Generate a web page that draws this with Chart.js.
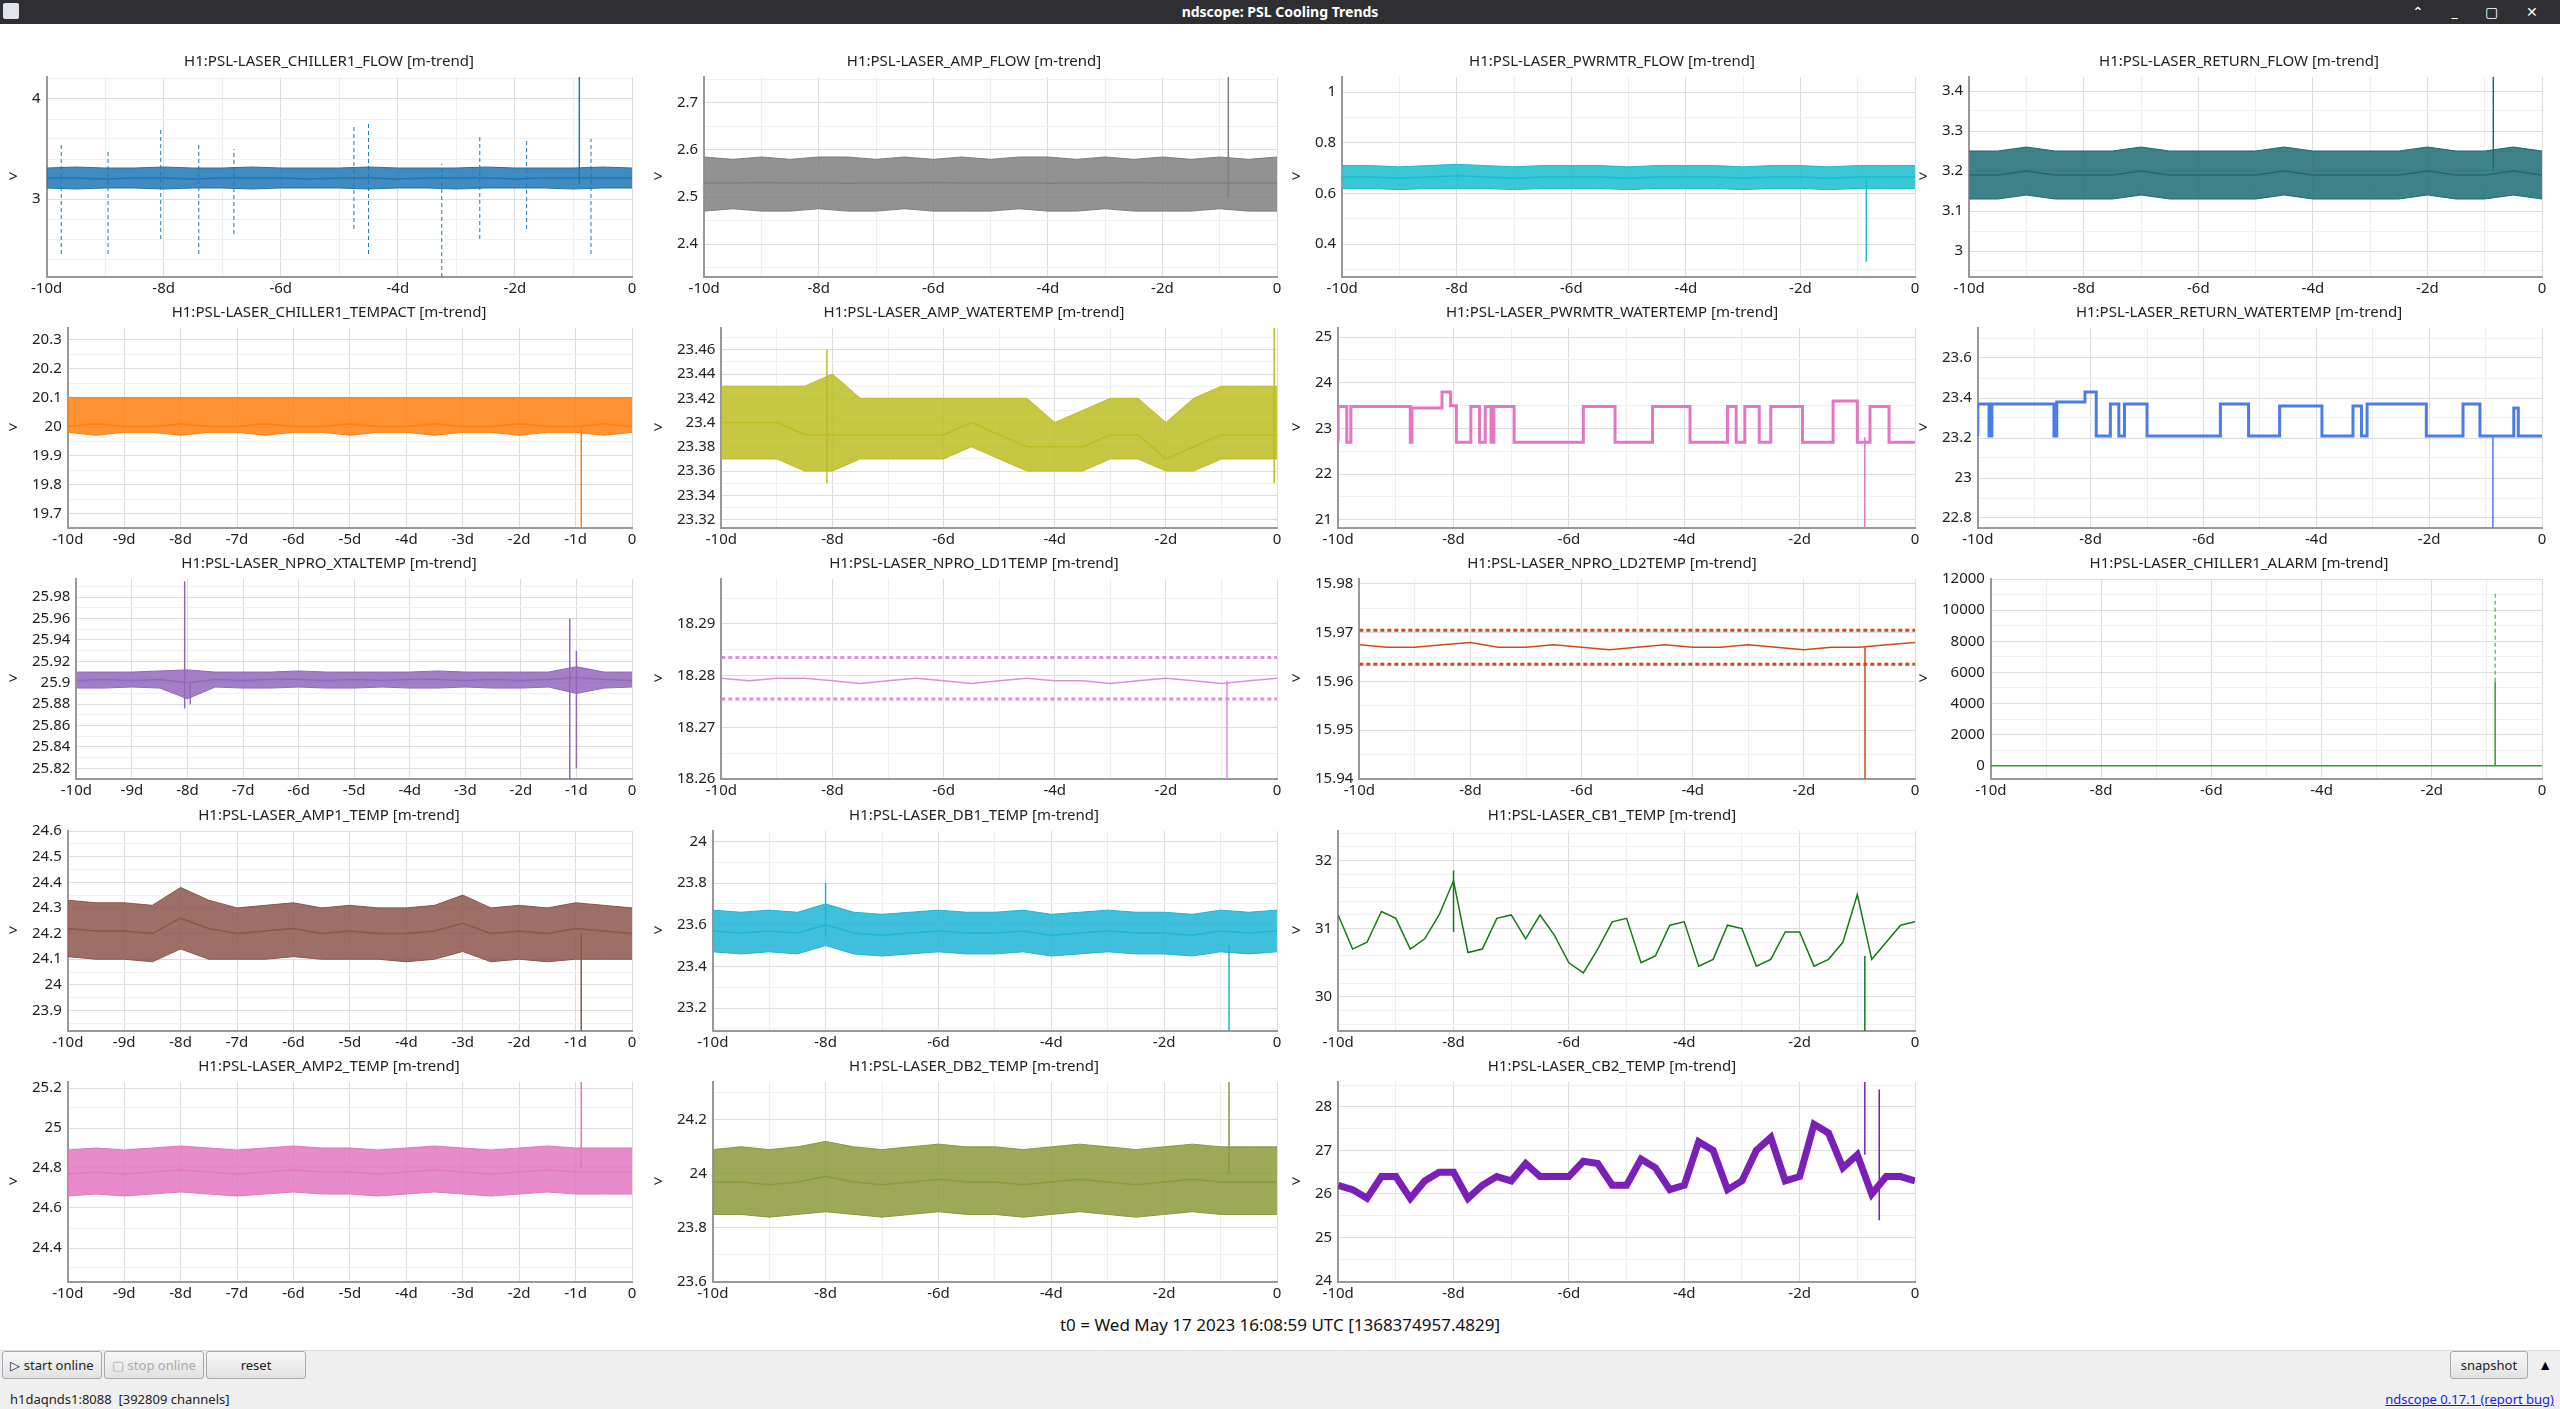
<!DOCTYPE html>
<html>
<head>
<meta charset="utf-8">
<script src="https://cdn.jsdelivr.net/npm/chart.js@4.4.0/dist/chart.umd.min.js"></script>
<style>
  html, body { margin: 0; padding: 0; width: 2560px; height: 1409px; overflow: hidden; background: #fff; font-family: "Noto Sans", sans-serif; }
  #titlebar { position: absolute; left: 0; top: 0; width: 2560px; height: 24px; background: #2f2f33; color: #fff; font-size: 14px; font-weight: bold; text-align: center; line-height: 24px; }
  #titlebar .ico { position: absolute; left: 3px; top: 3px; width: 16px; height: 16px; background: #dfe3ea; border-radius: 2px; }
  #titlebar .btns { position: absolute; right: 10px; top: 0; font-weight: normal; letter-spacing: 12px; }
  .cell { position: absolute; width: 640px; height: 250px; }
  #t0 { position: absolute; left: 0; width: 2560px; top: 1313px; text-align: center; font-size: 17px; color: #111; }
  #bottom { position: absolute; left: 0; top: 1350px; width: 2560px; height: 59px; background: #efefef; border-top: 1px solid #ddd; }
  .btn { position: absolute; top: 0; height: 26px; border: 1px solid #aaa; border-radius: 3px; background: linear-gradient(#f8f8f8, #e2e2e2); font-size: 13px; line-height: 26px; text-align: center; color: #222; }
  #status { position: absolute; left: 10px; top: 39px; font-size: 13px; color: #222; }
  #ver { position: absolute; right: 6px; top: 39px; font-size: 13px; color: #1a1ae0; text-decoration: underline; }
</style>
</head>
<body>
<div id="titlebar"><div class="ico"></div>ndscope: PSL Cooling Trends<span class="btns">⌃ _ ▢ ✕</span></div>
<div id="grid"></div>
<div id="t0">t0 = Wed May 17 2023 16:08:59 UTC [1368374957.4829]</div>
<div id="bottom">
  <div class="btn" style="left:2px;width:98px">▷ start online</div>
  <div class="btn" style="left:104px;width:98px;color:#aaa">▢ stop online</div>
  <div class="btn" style="left:206px;width:98px">reset</div>
  <div class="btn" style="right:32px;width:76px">snapshot</div>
  <div style="position:absolute;right:8px;top:4px;font-size:14px">▲</div>
  <div id="status">h1daqnds1:8088 &nbsp;[392809 channels]</div>
  <div id="ver">ndscope 0.17.1 (report bug)</div>
</div>
<script>
// ==========================================
// Datos
// ==========================================
// Eje temporal común (días respecto a t0), cada 12 h
const T = [-10,-9.5,-9,-8.5,-8,-7.5,-7,-6.5,-6,-5.5,-5,-4.5,-4,-3.5,-3,-2.5,-2,-1.5,-1,-0.5,0];

const CH1FLOW_MAX = [3.31,3.32,3.31,3.31,3.32,3.31,3.31,3.32,3.31,3.31,3.31,3.32,3.31,3.31,3.31,3.32,3.31,3.31,3.31,3.32,3.31];
const CH1FLOW_MEAN = [3.21,3.21,3.2,3.21,3.21,3.2,3.21,3.21,3.21,3.2,3.21,3.21,3.2,3.21,3.21,3.21,3.2,3.21,3.21,3.21,3.21];
const CH1FLOW_MIN = [3.11,3.1,3.11,3.11,3.1,3.11,3.11,3.1,3.11,3.11,3.11,3.1,3.11,3.11,3.1,3.11,3.11,3.11,3.1,3.11,3.11];
const CH1FLOW_OUT = [[-9.75,2.45,3.55],[-8.95,2.45,3.5],[-8.05,2.6,3.7],[-7.4,2.45,3.55],[-6.8,2.65,3.5],[-4.75,2.7,3.75],[-4.5,2.45,3.75],[-3.25,2.22,3.35],[-2.6,2.6,3.65],[-1.8,2.7,3.6],[-0.7,2.45,3.6]];
const CH1FLOW_SPK = [[-0.9,3.15,4.22]];

const AMPFLOW_MAX = [2.585,2.58,2.585,2.58,2.585,2.585,2.58,2.585,2.58,2.585,2.58,2.585,2.585,2.58,2.585,2.58,2.585,2.58,2.585,2.58,2.585];
const AMPFLOW_MEAN = [2.53,2.53,2.531,2.53,2.53,2.529,2.53,2.53,2.531,2.53,2.53,2.53,2.529,2.53,2.53,2.531,2.53,2.53,2.53,2.53,2.53];
const AMPFLOW_MIN = [2.47,2.475,2.47,2.47,2.475,2.47,2.47,2.475,2.47,2.47,2.47,2.475,2.47,2.47,2.475,2.47,2.47,2.47,2.475,2.47,2.47];
const AMPFLOW_SPK = [[-0.85,2.5,2.755]];

const PMFLOW_MAX = [0.71,0.71,0.705,0.71,0.715,0.71,0.705,0.71,0.71,0.71,0.705,0.71,0.71,0.71,0.705,0.71,0.71,0.705,0.71,0.71,0.71];
const PMFLOW_MEAN = [0.665,0.665,0.66,0.665,0.67,0.665,0.66,0.665,0.665,0.665,0.66,0.665,0.665,0.665,0.66,0.665,0.665,0.66,0.665,0.665,0.665];
const PMFLOW_MIN = [0.62,0.62,0.615,0.62,0.62,0.62,0.615,0.62,0.62,0.62,0.615,0.62,0.62,0.62,0.615,0.62,0.62,0.615,0.62,0.62,0.62];
const PMFLOW_SPK = [[-0.85,0.33,0.66]];

const RETFLOW_MAX = [3.25,3.25,3.26,3.25,3.25,3.25,3.26,3.25,3.25,3.25,3.25,3.26,3.25,3.25,3.25,3.25,3.26,3.25,3.25,3.26,3.25];
const RETFLOW_MEAN = [3.19,3.19,3.2,3.19,3.19,3.19,3.2,3.19,3.19,3.19,3.19,3.2,3.19,3.19,3.19,3.19,3.2,3.19,3.19,3.2,3.19];
const RETFLOW_MIN = [3.13,3.13,3.14,3.13,3.13,3.13,3.14,3.13,3.13,3.13,3.13,3.14,3.13,3.13,3.13,3.13,3.14,3.13,3.13,3.14,3.13];
const RETFLOW_SPK = [[-0.85,3.2,3.435]];

const TEMPACT_MAX = [20.1,20.1,20.1,20.1,20.1,20.1,20.1,20.1,20.1,20.1,20.1,20.1,20.1,20.1,20.1,20.1,20.1,20.1,20.1,20.1,20.1];
const TEMPACT_MEAN = [20.0,20.01,20.0,20.0,20.01,20.0,20.0,20.01,20.0,20.0,20.01,20.0,20.0,20.01,20.0,20.0,20.01,20.0,20.0,20.01,20.0];
const TEMPACT_MIN = [19.98,19.97,19.98,19.98,19.97,19.98,19.98,19.97,19.98,19.98,19.97,19.98,19.98,19.97,19.98,19.98,19.97,19.98,19.98,19.97,19.98];
const TEMPACT_SPK = [[-0.9,19.65,20.0]];

const AMPWT_MAX = [23.43,23.43,23.43,23.43,23.44,23.42,23.42,23.42,23.42,23.42,23.42,23.42,23.4,23.41,23.42,23.42,23.4,23.42,23.43,23.43,23.43];
const AMPWT_MEAN = [23.4,23.4,23.4,23.39,23.39,23.39,23.39,23.39,23.39,23.4,23.39,23.38,23.38,23.38,23.39,23.39,23.37,23.38,23.39,23.39,23.39];
const AMPWT_MIN = [23.37,23.37,23.37,23.36,23.36,23.37,23.37,23.37,23.37,23.38,23.37,23.36,23.36,23.36,23.37,23.37,23.36,23.36,23.37,23.37,23.37];
const AMPWT_SPK = [[-8.1,23.35,23.46],[-0.05,23.35,23.478]];

// Curvas de escalones: [t, valor]
const PMWT_STEPS = [[-10,22.7],[-9.85,23.48],[-9.78,22.7],[-8.75,23.48],[-8.72,22.7],[-8.2,23.45],[-8.05,23.8],[-7.95,23.5],[-7.7,22.7],[-7.55,23.48],[-7.45,22.7],[-7.35,23.48],[-7.3,22.7],[-6.95,23.48],[-5.75,22.7],[-5.2,23.48],[-4.55,22.7],[-3.9,23.48],[-3.25,22.7],[-3.1,23.48],[-2.95,22.7],[-2.7,23.48],[-2.5,22.7],[-1.95,23.48],[-1.42,22.7],[-1.0,23.6],[-0.78,22.7],[-0.45,23.48],[-0.38,22.7],[0,22.7]];
const PMWT_SPK = [[-0.87,20.82,22.8]];

const RETWT_STEPS = [[-10,23.21],[-9.8,23.37],[-9.75,23.21],[-8.65,23.37],[-8.6,23.21],[-8.1,23.38],[-7.9,23.43],[-7.65,23.21],[-7.5,23.37],[-7.4,23.21],[-7.0,23.37],[-5.7,23.21],[-5.2,23.37],[-4.65,23.21],[-3.9,23.36],[-3.35,23.21],[-3.2,23.36],[-3.1,23.21],[-2.05,23.37],[-1.4,23.21],[-1.1,23.37],[-0.5,23.21],[-0.42,23.35],[-0.35,23.21],[0,23.21]];
const RETWT_SPK = [[-0.87,22.75,23.21]];

const XTAL_MAX = [25.91,25.91,25.91,25.911,25.912,25.91,25.91,25.91,25.911,25.91,25.91,25.91,25.91,25.911,25.91,25.91,25.91,25.91,25.915,25.91,25.91];
const XTAL_MEAN = [25.902,25.903,25.902,25.903,25.9,25.903,25.902,25.903,25.903,25.902,25.903,25.902,25.903,25.903,25.902,25.903,25.902,25.903,25.905,25.903,25.902];
const XTAL_MIN = [25.895,25.895,25.896,25.895,25.885,25.896,25.895,25.895,25.896,25.895,25.895,25.896,25.895,25.895,25.896,25.895,25.895,25.896,25.89,25.895,25.896];
const XTAL_SPK = [[-8.05,25.876,25.995],[-7.95,25.88,25.9],[-1.12,25.81,25.96],[-1.0,25.82,25.93]];

const LD1_MAX = [18.2835,18.2835,18.2835,18.2835,18.2835,18.2835,18.2835,18.2835,18.2835,18.2835,18.2835,18.2835,18.2835,18.2835,18.2835,18.2835,18.2835,18.2835,18.2835,18.2835,18.2835];
const LD1_MEAN = [18.2795,18.279,18.2795,18.2795,18.279,18.2785,18.279,18.2795,18.279,18.2785,18.279,18.2795,18.279,18.279,18.2785,18.279,18.2795,18.279,18.2785,18.279,18.2795];
const LD1_MIN = [18.2755,18.2755,18.2755,18.2755,18.2755,18.2755,18.2755,18.2755,18.2755,18.2755,18.2755,18.2755,18.2755,18.2755,18.2755,18.2755,18.2755,18.2755,18.2755,18.2755,18.2755];
const LD1_SPK = [[-0.9,18.26,18.279]];

const LD2_MAX = [15.9705,15.9705,15.9705,15.9705,15.9705,15.9705,15.9705,15.9705,15.9705,15.9705,15.9705,15.9705,15.9705,15.9705,15.9705,15.9705,15.9705,15.9705,15.9705,15.9705,15.9705];
const LD2_MEAN = [15.9675,15.967,15.967,15.9675,15.968,15.967,15.967,15.9675,15.967,15.9665,15.967,15.9675,15.967,15.967,15.9675,15.967,15.9665,15.967,15.967,15.9675,15.968];
const LD2_MIN = [15.9635,15.9635,15.9635,15.9635,15.9635,15.9635,15.9635,15.9635,15.9635,15.9635,15.9635,15.9635,15.9635,15.9635,15.9635,15.9635,15.9635,15.9635,15.9635,15.9635,15.9635];
const LD2_SPK = [[-0.9,15.94,15.967]];

const ALARM_MEAN = [0,0,0,0,0,0,0,0,0,0,0,0,0,0,0,0,0,0,0,0,0];
const ALARM_SPK = [[-0.85,0,5400]];
const ALARM_OUT = [[-0.85,5400,11200]];

const AMP1_MAX = [24.33,24.32,24.32,24.31,24.38,24.33,24.3,24.31,24.32,24.3,24.31,24.3,24.3,24.31,24.35,24.3,24.31,24.3,24.32,24.31,24.3];
const AMP1_MEAN = [24.22,24.21,24.21,24.2,24.26,24.22,24.2,24.21,24.22,24.2,24.21,24.2,24.2,24.21,24.24,24.2,24.21,24.2,24.22,24.21,24.2];
const AMP1_MIN = [24.11,24.1,24.1,24.09,24.14,24.1,24.1,24.1,24.11,24.1,24.1,24.1,24.09,24.1,24.13,24.09,24.1,24.09,24.1,24.1,24.1];
const AMP1_SPK = [[-0.9,23.82,24.2]];

const DB1_MAX = [23.67,23.66,23.67,23.66,23.7,23.66,23.65,23.66,23.67,23.66,23.66,23.67,23.65,23.66,23.67,23.66,23.66,23.65,23.67,23.66,23.67];
const DB1_MEAN = [23.57,23.56,23.57,23.56,23.6,23.56,23.55,23.56,23.57,23.56,23.56,23.57,23.55,23.56,23.57,23.56,23.56,23.55,23.57,23.56,23.57];
const DB1_MIN = [23.47,23.46,23.47,23.46,23.5,23.46,23.45,23.46,23.47,23.46,23.46,23.47,23.45,23.46,23.47,23.46,23.46,23.45,23.47,23.46,23.47];
const DB1_SPK = [[-8.0,23.55,23.8],[-0.85,23.09,23.5]];

const AMP2_MAX = [24.89,24.9,24.89,24.9,24.91,24.9,24.89,24.9,24.91,24.9,24.9,24.89,24.9,24.91,24.9,24.89,24.9,24.91,24.9,24.9,24.9];
const AMP2_MEAN = [24.77,24.78,24.77,24.78,24.79,24.78,24.77,24.78,24.79,24.78,24.78,24.77,24.78,24.79,24.78,24.77,24.78,24.79,24.78,24.78,24.78];
const AMP2_MIN = [24.66,24.67,24.66,24.67,24.68,24.67,24.66,24.67,24.68,24.67,24.67,24.66,24.67,24.68,24.67,24.66,24.67,24.68,24.67,24.67,24.67];
const AMP2_SPK = [[-0.9,24.8,25.23]];

const DB2_MAX = [24.09,24.1,24.09,24.1,24.12,24.1,24.09,24.1,24.11,24.1,24.1,24.09,24.1,24.11,24.1,24.09,24.1,24.11,24.1,24.1,24.1];
const DB2_MEAN = [23.97,23.97,23.96,23.97,23.99,23.97,23.96,23.97,23.98,23.97,23.97,23.96,23.97,23.98,23.97,23.96,23.97,23.98,23.97,23.97,23.97];
const DB2_MIN = [23.85,23.85,23.84,23.85,23.86,23.85,23.84,23.85,23.86,23.85,23.85,23.84,23.85,23.86,23.85,23.84,23.85,23.86,23.85,23.85,23.85];
const DB2_SPK = [[-0.85,24.0,24.34]];

// Eje temporal fino (cada 6 h) para CB1 / CB2
const T6 = [-10,-9.75,-9.5,-9.25,-9,-8.75,-8.5,-8.25,-8,-7.75,-7.5,-7.25,-7,-6.75,-6.5,-6.25,-6,-5.75,-5.5,-5.25,-5,-4.75,-4.5,-4.25,-4,-3.75,-3.5,-3.25,-3,-2.75,-2.5,-2.25,-2,-1.75,-1.5,-1.25,-1,-0.75,-0.5,-0.25,0];
const CB1_MEAN = [31.2,30.7,30.8,31.25,31.15,30.7,30.85,31.2,31.7,30.65,30.7,31.15,31.2,30.85,31.2,30.9,30.5,30.35,30.7,31.1,31.15,30.5,30.6,31.05,31.1,30.45,30.55,31.05,31.0,30.45,30.55,30.95,30.95,30.45,30.55,30.8,31.5,30.55,30.8,31.05,31.1];
const CB1_SPK = [[-0.87,29.5,30.6],[-8.0,30.95,31.85]];
const CB2_MEAN = [26.2,26.1,25.9,26.4,26.4,25.9,26.3,26.5,26.5,25.9,26.2,26.4,26.3,26.7,26.4,26.4,26.4,26.75,26.7,26.2,26.2,26.8,26.6,26.1,26.2,27.2,27.0,26.1,26.3,27.0,27.3,26.3,26.4,27.6,27.4,26.6,26.9,26.0,26.4,26.4,26.3];
const CB2_SPK = [[-0.87,26.9,28.57],[-0.62,25.4,28.4]];

// ==========================================
// Configuración de paneles
// ==========================================
const paneles = [
  { title: 'H1:PSL-LASER_CHILLER1_FLOW [m-trend]', color: '#1f77b4', y: [2.22, 4.22, 0.2, 1], xl: 2, max: CH1FLOW_MAX, mean: CH1FLOW_MEAN, min: CH1FLOW_MIN, spk: CH1FLOW_SPK, out: CH1FLOW_OUT },
  { title: 'H1:PSL-LASER_AMP_FLOW [m-trend]', color: '#7f7f7f', y: [2.33, 2.755, 0.05, 0.1], xl: 2, max: AMPFLOW_MAX, mean: AMPFLOW_MEAN, min: AMPFLOW_MIN, spk: AMPFLOW_SPK },
  { title: 'H1:PSL-LASER_PWRMTR_FLOW [m-trend]', color: '#17becf', y: [0.27, 1.06, 0.1, 0.2], xl: 2, max: PMFLOW_MAX, mean: PMFLOW_MEAN, min: PMFLOW_MIN, spk: PMFLOW_SPK },
  { title: 'H1:PSL-LASER_RETURN_FLOW [m-trend]', color: '#1d6b73', y: [2.935, 3.435, 0.05, 0.1], xl: 2, max: RETFLOW_MAX, mean: RETFLOW_MEAN, min: RETFLOW_MIN, spk: RETFLOW_SPK },
  { title: 'H1:PSL-LASER_CHILLER1_TEMPACT [m-trend]', color: '#ff7f0e', y: [19.65, 20.34, 0.05, 0.1], xl: 1, max: TEMPACT_MAX, mean: TEMPACT_MEAN, min: TEMPACT_MIN, spk: TEMPACT_SPK },
  { title: 'H1:PSL-LASER_AMP_WATERTEMP [m-trend]', color: '#bcbd22', y: [23.313, 23.478, 0.01, 0.02], xl: 2, max: AMPWT_MAX, mean: AMPWT_MEAN, min: AMPWT_MIN, spk: AMPWT_SPK },
  { title: 'H1:PSL-LASER_PWRMTR_WATERTEMP [m-trend]', color: '#e377c2', y: [20.82, 25.2, 0.5, 1], xl: 2, steps: PMWT_STEPS, spk: PMWT_SPK },
  { title: 'H1:PSL-LASER_RETURN_WATERTEMP [m-trend]', color: '#4a7de8', y: [22.75, 23.75, 0.1, 0.2], xl: 2, steps: RETWT_STEPS, spk: RETWT_SPK },
  { title: 'H1:PSL-LASER_NPRO_XTALTEMP [m-trend]', color: '#9467bd', y: [25.81, 25.997, 0.01, 0.02], xl: 1, max: XTAL_MAX, mean: XTAL_MEAN, min: XTAL_MIN, spk: XTAL_SPK },
  { title: 'H1:PSL-LASER_NPRO_LD1TEMP [m-trend]', color: '#dc8fdc', y: [18.26, 18.2987, 0.005, 0.01], xl: 2, max: LD1_MAX, mean: LD1_MEAN, min: LD1_MIN, spk: LD1_SPK, dashedEnv: true },
  { title: 'H1:PSL-LASER_NPRO_LD2TEMP [m-trend]', color: '#d2481a', y: [15.94, 15.981, 0.005, 0.01], xl: 2, max: LD2_MAX, mean: LD2_MEAN, min: LD2_MIN, spk: LD2_SPK, dashedEnv: true },
  { title: 'H1:PSL-LASER_CHILLER1_ALARM [m-trend]', color: '#2ca02c', y: [-850, 12000, 1000, 2000], xl: 2, mean: ALARM_MEAN, spk: ALARM_SPK, out: ALARM_OUT },
  { title: 'H1:PSL-LASER_AMP1_TEMP [m-trend]', color: '#8c564b', y: [23.82, 24.6, 0.05, 0.1], xl: 1, max: AMP1_MAX, mean: AMP1_MEAN, min: AMP1_MIN, spk: AMP1_SPK },
  { title: 'H1:PSL-LASER_DB1_TEMP [m-trend]', color: '#1fb5d6', y: [23.09, 24.05, 0.1, 0.2], xl: 2, max: DB1_MAX, mean: DB1_MEAN, min: DB1_MIN, spk: DB1_SPK },
  { title: 'H1:PSL-LASER_CB1_TEMP [m-trend]', color: '#157a15', y: [29.5, 32.43, 0.2, 1], xl: 2, t: T6, mean: CB1_MEAN, spk: CB1_SPK, lw: 1.5 },
  null,
  { title: 'H1:PSL-LASER_AMP2_TEMP [m-trend]', color: '#e377c2', y: [24.23, 25.23, 0.1, 0.2], xl: 1, max: AMP2_MAX, mean: AMP2_MEAN, min: AMP2_MIN, spk: AMP2_SPK },
  { title: 'H1:PSL-LASER_DB2_TEMP [m-trend]', color: '#8c9a3c', y: [23.6, 24.34, 0.1, 0.2], xl: 2, max: DB2_MAX, mean: DB2_MEAN, min: DB2_MIN, spk: DB2_SPK },
  { title: 'H1:PSL-LASER_CB2_TEMP [m-trend]', color: '#7a1fb8', y: [23.98, 28.57, 0.5, 1], xl: 2, t: T6, mean: CB2_MEAN, spk: CB2_SPK, lw: 7 }
];

const colLeft = [0, 645, 1283, 1910];
const rowTop = [51, 302, 553, 805, 1056];

function esMultiplo(v, paso) {
  const r = v / paso;
  return Math.abs(r - Math.round(r)) < 1e-6;
}
function ticksEntre(min, max, paso) {
  const out = [];
  let i = Math.ceil(min / paso - 1e-9);
  while (i * paso <= max + 1e-9) { out.push({ value: parseFloat((i * paso).toFixed(6)) }); i++; }
  return out;
}
function segmentos(lista) {
  const pts = [];
  lista.forEach(s => { pts.push({ x: s[0], y: s[1] }, { x: s[0], y: s[2] }, { x: s[0], y: null }); });
  return pts;
}
function alfa(hex, a) {
  const n = parseInt(hex.slice(1), 16);
  return `rgba(${n >> 16},${(n >> 8) & 255},${n & 255},${a})`;
}

// Etiqueta ">" del eje Y, sin rotar (como en ndscope)
const etiquetaEje = {
  id: 'etiquetaEje',
  afterDraw(chart) {
    const { ctx, chartArea } = chart;
    ctx.save();
    ctx.fillStyle = '#222';
    ctx.font = '16px "Noto Sans"';
    ctx.textAlign = 'center';
    ctx.textBaseline = 'middle';
    ctx.fillText('>', 13, (chartArea.top + chartArea.bottom) / 2);
    ctx.restore();
  }
};

paneles.forEach((p, idx) => {
  if (!p) return;
  const col = idx % 4, row = Math.floor(idx / 4);
  const div = document.createElement('div');
  div.className = 'cell';
  div.style.left = colLeft[col] + 'px';
  div.style.top = rowTop[row] + 'px';
  const cv = document.createElement('canvas');
  cv.width = 640; cv.height = 250;
  div.appendChild(cv);
  document.getElementById('grid').appendChild(div);

  const xs = p.t || T;
  const datasets = [];
  if (p.max) {
    datasets.push({ data: xs.map((t, i) => ({ x: t, y: p.max[i] })), borderColor: p.color, borderWidth: p.dashedEnv ? 3 : 1,
      borderDash: p.dashedEnv ? [4, 3] : [], fill: p.dashedEnv ? false : '+1', backgroundColor: alfa(p.color, 0.85) });
    datasets.push({ data: xs.map((t, i) => ({ x: t, y: p.min[i] })), borderColor: p.color, borderWidth: p.dashedEnv ? 3 : 1,
      borderDash: p.dashedEnv ? [4, 3] : [], fill: false });
  }
  if (p.mean) {
    datasets.push({ data: xs.map((t, i) => ({ x: t, y: p.mean[i] })), borderColor: p.color, borderWidth: p.lw || 1.5, fill: false });
  }
  if (p.steps) {
    datasets.push({ data: p.steps.map(s => ({ x: s[0], y: s[1] })), borderColor: p.color, borderWidth: 3, stepped: 'after', fill: false });
  }
  if (p.out) {
    datasets.push({ data: segmentos(p.out), borderColor: p.color, borderWidth: 1, borderDash: [4, 3], spanGaps: false });
  }
  datasets.push({ data: segmentos(p.spk), borderColor: p.color, borderWidth: 1.5, spanGaps: false });

  const [ymin, ymax, ystep, ylab] = p.y;
  new Chart(cv, {
    type: 'line',
    data: { datasets },
    plugins: [etiquetaEje],
    options: {
      animation: false,
      responsive: false,
      devicePixelRatio: 1,
      elements: { point: { radius: 0 }, line: { tension: 0 } },
      layout: { padding: { right: 8, left: 26 } },
      plugins: {
        legend: { display: false },
        tooltip: { enabled: false },
        title: { display: true, text: p.title, color: '#222', font: { family: 'Noto Sans', size: 15, weight: 'normal' }, padding: { top: 2, bottom: 6 } }
      },
      scales: {
        x: {
          type: 'linear', min: -10, max: 0,
          afterBuildTicks: s => { s.ticks = ticksEntre(-10, 0, 1); },
          ticks: { autoSkip: false, maxRotation: 0, color: '#222', font: { family: 'Noto Sans', size: 15 },
            callback: v => esMultiplo(v, p.xl) ? (v === 0 ? '0' : v + 'd') : '' },
          grid: { color: c => esMultiplo(c.tick.value, p.xl) ? '#dddddd' : '#eeeeee', drawTicks: false },
          border: { color: '#999', width: 2 }
        },
        y: {
          min: ymin, max: ymax,
          afterBuildTicks: s => { s.ticks = ticksEntre(ymin, ymax, ystep); },
          ticks: { autoSkip: false, color: '#222', font: { family: 'Noto Sans', size: 15 }, padding: 6,
            callback: v => esMultiplo(v, ylab) ? String(parseFloat(v.toFixed(4))) : '' },
          grid: { color: c => esMultiplo(c.tick.value, ylab) ? '#dddddd' : '#f1f1f1', drawTicks: false },
          border: { color: '#999', width: 2 }
        }
      }
    }
  });
});
</script>
</body>
</html>
